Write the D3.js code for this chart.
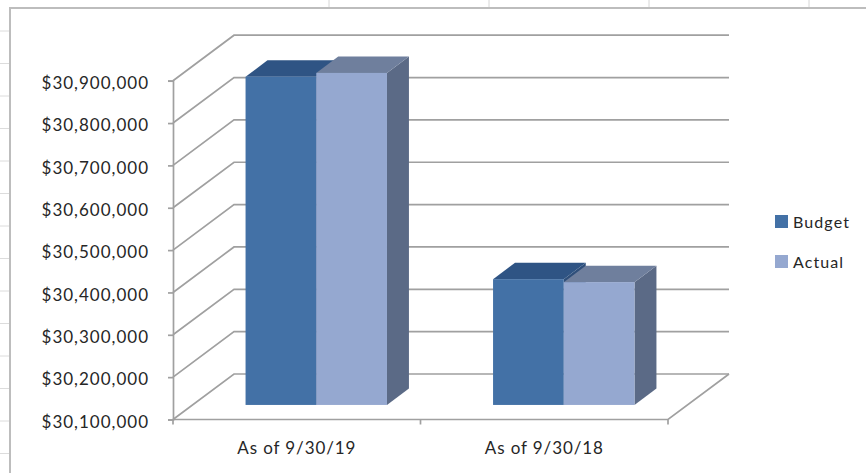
<!DOCTYPE html>
<html>
<head>
<meta charset="utf-8">
<script src="https://cdn.jsdelivr.net/npm/d3@7"></script>
<style>
  html, body { margin: 0; padding: 0; background: #fff; }
  svg { display: block; }
</style>
</head>
<body>
<svg id="chart" width="866" height="473"></svg>
<script>
// Fund balance: budget vs actual at two year-ends
const categories = ["As of 9/30/19", "As of 9/30/18"];
const seriesNames = ["Budget", "Actual"];
const budget = [30875000, 30397000];
const actual = [30884000, 30390000];
const yTicks = [30100000, 30200000, 30300000, 30400000, 30500000, 30600000, 30700000, 30800000, 30900000];

const values = { Budget: budget, Actual: actual };

const W = 866, H = 473;
const svg = d3.select("#chart");
const FONT = "Lato, 'Open Sans', sans-serif";

// Worksheet backdrop behind the chart object
const sheet = svg.append("g");
[329, 489, 649, 809].forEach(x => {
  sheet.append("line").attr("x1", x).attr("x2", x).attr("y1", 0).attr("y2", 8)
    .attr("stroke", "#d6d6d6").attr("stroke-width", 1);
});
d3.range(0, 14).map(k => 31 + k * 32.5).forEach(y => {
  sheet.append("line").attr("x1", 0).attr("x2", 9).attr("y1", y).attr("y2", y)
    .attr("stroke", "#dcdcdc").attr("stroke-width", 1);
});

// Chart object border (only left and top edges fall inside the view)
svg.append("path")
  .attr("d", `M10,${H} L10,8 L${W},8`)
  .attr("fill", "none").attr("stroke", "#bdbdbd").attr("stroke-width", 2);

// Plot geometry: front plane of the floor, plus a depth offset for the back wall
const x0 = 173, x1 = 668;
const DX = 61, DY = -45.5;          // full depth of the 3-D box
const barFront = 0.32, barDepth = 0.36;  // bars sit in the middle slice of the depth

const y = d3.scaleLinear().domain([30100000, 30900000]).range([419.5, 80.7]);
const xCat = d3.scaleBand().domain(categories).range([x0, x1]).paddingInner(0).paddingOuter(0);
const xSer = d3.scaleBand().domain(seriesNames).range([0, xCat.bandwidth()])
  .paddingInner(0).paddingOuter(0.75);

const gridColor = "#a0a0a0";
const grid = svg.append("g").attr("fill", "none").attr("stroke", gridColor).attr("stroke-width", 1.7);

// Back-wall gridlines and left-wall diagonals
yTicks.forEach(t => {
  const yy = y(t);
  grid.append("path")
    .attr("d", `M${x0},${yy} L${x0 + DX},${yy + DY} L${x1 + DX},${yy + DY}`);
});
// Floor
grid.append("path")
  .attr("d", `M${x0},${y(30100000)} L${x1},${y(30100000)} L${x1 + DX},${y(30100000) + DY}`);

// Value axis (front edge of left wall)
const yAxis = d3.axisLeft(y).tickValues(yTicks).tickSize(5).tickPadding(19)
  .tickFormat(d => "$" + d3.format(",")(d));
const ya = svg.append("g").attr("transform", `translate(${x0},0)`).call(yAxis);
ya.select(".domain").attr("stroke", gridColor).attr("stroke-width", 1.7);
ya.selectAll(".tick line").attr("stroke", gridColor).attr("stroke-width", 1.7);
ya.selectAll(".tick text")
  .attr("font-family", FONT).attr("font-size", 17).attr("letter-spacing", 1)
  .attr("dy", "0.45em").attr("fill", "#262626");

// Category axis along the front floor edge
const xAxis = d3.axisBottom(xCat).tickSize(0).tickPadding(22);
const xa = svg.append("g").attr("transform", `translate(0,${y(30100000)})`).call(xAxis);
xa.select(".domain").remove();
xa.selectAll(".tick text")
  .attr("font-family", FONT).attr("font-size", 17).attr("letter-spacing", 0.9)
  .attr("fill", "#262626");
[x0, x0 + xCat.bandwidth(), x1].forEach(xx => {
  xa.append("line").attr("x1", xx).attr("x2", xx).attr("y1", 0).attr("y2", 5)
    .attr("stroke", gridColor).attr("stroke-width", 1.7);
});

// 3-D columns
const colors = {
  Budget: { front: "#4371a6", top: "#2f5484", side: "#2f4f7a" },
  Actual: { front: "#95a8d0", top: "#6f7f9d", side: "#5b6a86" }
};
const fdx = DX * barFront, fdy = DY * barFront;
const bdx = DX * barDepth, bdy = DY * barDepth;

const bars = svg.append("g");
categories.forEach((c, i) => {
  seriesNames.forEach(s => {
    const v = values[s][i];
    const xl = xCat(c) + xSer(s) + fdx;
    const xr = xl + xSer.bandwidth();
    const yt = y(v) + fdy;
    const yb = y(30100000) + fdy;
    const col = colors[s];
    bars.append("path")
      .attr("d", `M${xr},${yt} L${xr + bdx},${yt + bdy} L${xr + bdx},${yb + bdy} L${xr},${yb} Z`)
      .attr("fill", col.side);
    bars.append("path")
      .attr("d", `M${xl},${yt} L${xl + bdx},${yt + bdy} L${xr + bdx},${yt + bdy} L${xr},${yt} Z`)
      .attr("fill", col.top);
    bars.append("rect")
      .attr("x", xl).attr("y", yt).attr("width", xr - xl).attr("height", yb - yt)
      .attr("fill", col.front);
  });
});

// Legend
const legend = svg.append("g").attr("transform", "translate(775,215)");
seriesNames.forEach((s, i) => {
  const g = legend.append("g").attr("transform", `translate(0,${i * 40})`);
  g.append("rect").attr("width", 13).attr("height", 13).attr("fill", colors[s].front);
  g.append("text").attr("x", 18).attr("y", 7).attr("dy", "0.35em")
    .attr("font-family", FONT).attr("font-size", 16).attr("letter-spacing", 1.1)
    .attr("fill", "#262626").text(s);
});
</script>
</body>
</html>
